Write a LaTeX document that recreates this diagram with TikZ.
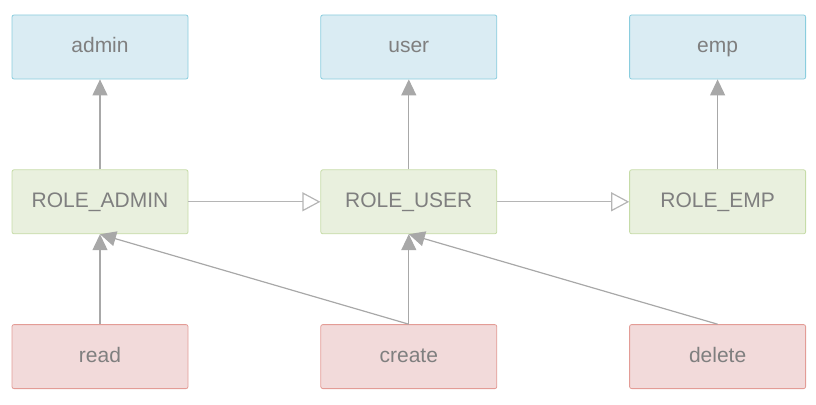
\documentclass[tikz,border=0pt]{standalone}
\usepackage{fontspec}
\setmainfont{Liberation Sans}
\usetikzlibrary{arrows.meta,positioning}
\definecolor{UserBlue}{HTML}{DAECF3}
\definecolor{UserBlueLine}{HTML}{8ACDDE}
\definecolor{RoleGreen}{HTML}{E9F0DE}
\definecolor{RoleGreenLine}{HTML}{C6DCA8}
\definecolor{PermRed}{HTML}{F2DADA}
\definecolor{PermRedLine}{HTML}{E39C96}
\definecolor{TextGray}{HTML}{7F7F7F}
\definecolor{LineGray}{HTML}{A8A8A8}

\begin{document}
\begin{tikzpicture}[x=1pt,y=-1pt,
        box/.style={rounded corners=2pt,line width=0.8pt,
                    minimum width=176pt,minimum height=64pt,
                    text height=15pt,text depth=4pt,
                    inner sep=0pt,font=\fontsize{21}{24}\selectfont,
                    text=TextGray},
        user/.style={box,draw=UserBlueLine,fill=UserBlue},
        role/.style={box,draw=RoleGreenLine,fill=RoleGreen},
        perm/.style={box,draw=PermRedLine,fill=PermRed},
        arrow/.style={-{Triangle[length=16pt,width=15pt]},LineGray,line width=1.2pt},
        extends/.style={-{Triangle[open,length=18pt,width=19pt]},LineGray!85,line width=1.2pt}]
        \useasboundingbox (0,0) rectangle (816,404);
        % users
        \node[user] (admin) at (100,47) {admin};
        \node[user,right=132pt of admin] (user) {user};
        \node[user,right=132pt of user] (emp) {emp};
        % roles
        \node[role,below=90pt of admin] (radmin) {ROLE\_ADMIN};
        \node[role,below=90pt of user] (ruser) {ROLE\_USER};
        \node[role,below=90pt of emp] (remp) {ROLE\_EMP};
        % permissions
        \node[perm,below=90pt of radmin] (read) {read};
        \node[perm,below=90pt of ruser] (create) {create};
        \node[perm,below=90pt of remp] (delete) {delete};
        \draw[arrow] (radmin)--(admin);
        \draw[arrow] (ruser)--(user);
        \draw[arrow] (remp)--(emp);
        \draw[extends] (radmin)--(ruser);
        \draw[extends] (ruser)--(remp);
        \draw[arrow] (read)--(radmin);
        \draw[arrow] (create.north)--(radmin.south);
        \draw[arrow] (create)--(ruser);
        \draw[arrow] (delete.north)--(ruser.south);
      \end{tikzpicture}
\end{document}
